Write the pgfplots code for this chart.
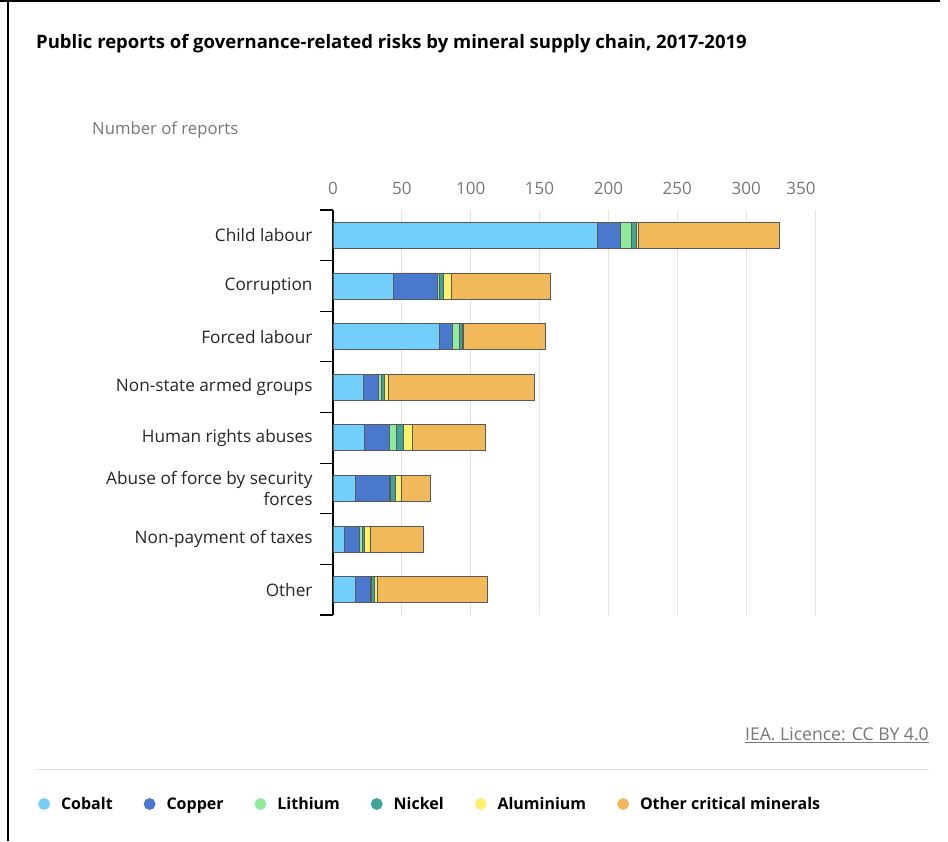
\documentclass[border=0pt]{standalone}
\usepackage{fontspec}
\setmainfont{Open Sans}
\usepackage{pgfplots}
\pgfplotsset{compat=1.18}
\definecolor{cobalt}{HTML}{72CEFA}
\definecolor{copper}{HTML}{4A78CC}
\definecolor{lithium}{HTML}{8EEB98}
\definecolor{nickel}{HTML}{3FA59A}
\definecolor{alu}{HTML}{FFF06A}
\definecolor{other}{HTML}{F2B95A}
\definecolor{gtxt}{HTML}{777777}
\definecolor{gridc}{HTML}{E3E3E3}
\begin{document}
\begin{tikzpicture}[x=1pt,y=1pt]
\useasboundingbox (0,0) rectangle (948,841);
\draw[line width=2pt] (8,0) -- (8,841);
\draw[line width=2pt] (0,840) -- (940,840);
\node[anchor=base west, inner sep=0, font=\fontsize{18.5}{22}\selectfont\bfseries] at (36,792) {Public reports of governance-related risks by mineral supply chain, 2017-2019};
\node[anchor=base west, inner sep=0, text=gtxt, font=\fontsize{16.7}{19}\selectfont] at (92,706) {Number of reports};
\node[anchor=base east, inner sep=0, text=gtxt, font=\fontsize{17.6}{20}\selectfont] at (929,100) {\underline{IEA. Licence: CC BY 4.0}};
\draw[gridc, line width=1pt] (36,71) -- (929,71);
\begin{axis}[
  at={(333pt,226pt)}, anchor=south west,
  scale only axis, width=482pt, height=405pt,
  xbar stacked, bar width=26pt,
  xmin=0, xmax=350,
  ymin=-0.5, ymax=7.5,
  axis x line*=top, axis y line*=left,
  x axis line style={draw=none},
  y axis line style={black, line width=1.2pt},
  xtick={0,50,...,350},
  xticklabels={0,50,100,150,200,250,300,{350\hspace*{28pt}}},
  xtick style={draw=none},
  xmajorgrids, major grid style={gridc, line width=1pt},
  xticklabel style={text=gtxt, font=\fontsize{17}{20}\selectfont, yshift=12pt},
  /pgf/number format/assume math mode=true,
  ytick={0,...,7},
  yticklabels={Other, Non-payment of taxes, {Abuse of force by security\\forces}, Human rights abuses, Non-state armed groups, Forced labour, Corruption, Child labour},
  yticklabel style={align=right, font=\fontsize{17.2}{21}\selectfont, text=black!85, xshift=-17pt},
  minor ytick={-0.5,0.5,...,7.5},
  ytick style={black, line width=1.2pt},
  major tick length=0pt, minor tick length=13pt, tick align=outside,
  every axis plot/.append style={draw=black!65, line width=0.8pt},
  legend columns=6,
  legend style={at={(-0.612,-0.4667)}, anchor=west, draw=none, fill=none, inner sep=0pt,
    nodes={inner sep=0pt},
    font=\fontsize{16}{19}\selectfont\bfseries,
    /tikz/every even column/.append style={column sep=31pt},
    /tikz/every odd column/.append style={column sep=11pt}},
]
\addlegendimage{legend image code/.code={\fill[cobalt] (5pt,0pt) circle (5.5pt);}}
\addlegendimage{legend image code/.code={\fill[copper] (5pt,0pt) circle (5.5pt);}}
\addlegendimage{legend image code/.code={\fill[lithium] (5pt,0pt) circle (5.5pt);}}
\addlegendimage{legend image code/.code={\fill[nickel] (5pt,0pt) circle (5.5pt);}}
\addlegendimage{legend image code/.code={\fill[alu] (5pt,0pt) circle (5.5pt);}}
\addlegendimage{legend image code/.code={\fill[other] (5pt,0pt) circle (5.5pt);}}
\addplot[fill=cobalt] coordinates {(192,7) (44,6) (77,5) (22,4) (23,3) (16,2) (8,1) (16,0)};
\addplot[fill=copper] coordinates {(17,7) (32,6) (10,5) (11,4) (18,3) (25,2) (11,1) (11,0)};
\addplot[fill=lithium] coordinates {(8,7) (1,6) (5,5) (2,4) (5,3) (1,2) (2,1) (1,0)};
\addplot[fill=nickel] coordinates {(3,7) (3,6) (2,5) (2,4) (5,3) (3,2) (2,1) (2,0)};
\addplot[fill=alu] coordinates {(2,7) (6,6) (1,5) (3,4) (7,3) (5,2) (4,1) (2,0)};
\addplot[fill=other] coordinates {(102,7) (72,6) (59,5) (106,4) (53,3) (21,2) (39,1) (80,0)};
\legend{Cobalt, Copper, Lithium, Nickel, Aluminium, Other critical minerals}
\end{axis}
\end{tikzpicture}
\end{document}
